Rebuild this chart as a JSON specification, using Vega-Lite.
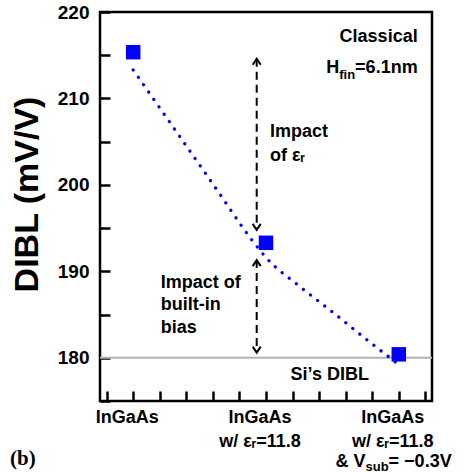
{
  "$schema": "https://vega.github.io/schema/vega-lite/v6.json",
  "width": 332,
  "height": 389,
  "autosize": "none",
  "padding": {"left": 100, "top": 12, "right": 31, "bottom": 72},
  "background": "white",
  "config": {
    "view": {"stroke": "black", "strokeWidth": 2.5},
    "font": "Liberation Sans",
    "text": {"font": "Liberation Sans", "fontWeight": "bold", "fontSize": 18, "color": "black"},
    "axisY": {
      "values": [180, 185, 190, 195, 200, 205, 210, 215, 220],
      "labelExpr": "datum.value % 10 === 0 ? datum.label : ''",
      "offset": -10,
      "tickSize": 10, "tickWidth": 2.5, "tickColor": "black",
      "domain": false, "grid": false,
      "labelFont": "Liberation Sans", "labelFontWeight": "bold", "labelFontSize": 19,
      "labelColor": "black", "labelPadding": 11,
      "titleFont": "Liberation Sans", "titleFontSize": 34,
      "titleFontWeight": "bold", "titleColor": "black",
      "titleX": -83, "titleY": 182, "titleAngle": -90,
      "titleAlign": "center", "titleBaseline": "middle"
    },
    "axisX": {
      "values": [0, 1, 2], "labels": false, "offset": -10, "tickSize": 10, "tickWidth": 2.5,
      "tickColor": "black", "domain": false, "grid": false
    }
  },
  "datasets": {
    "points": [
      {"case": 0, "dibl": 215.35},
      {"case": 1, "dibl": 193.3},
      {"case": 2, "dibl": 180.4}
    ],
    "fit": [
      {"case": 0, "dibl": 213.3},
      {"case": 0.3, "dibl": 206.7},
      {"case": 0.6, "dibl": 200.1},
      {"case": 0.9, "dibl": 193.5},
      {"case": 1.0, "dibl": 191.6},
      {"case": 1.25, "dibl": 188.3},
      {"case": 1.5, "dibl": 185.3},
      {"case": 1.75, "dibl": 182.2},
      {"case": 2.0, "dibl": 179.2}
    ],
    "arrows": [
      {"case": 0.93, "top": 214.6, "bottom": 194.8},
      {"case": 0.93, "top": 191.3, "bottom": 180.6}
    ]
  },
  "layer": [
    {
      "data": {"values": [{"case": 0, "dibl": 180}]},
      "mark": {"type": "rule", "color": "#b3b3b3", "strokeWidth": 2},
      "encoding": {
        "y": {
          "field": "dibl", "type": "quantitative", "title": "DIBL (mV/V)",
          "scale": {"domain": [175, 220], "nice": false, "zero": false}
        }
      }
    },
    {
      "data": {"name": "fit"},
      "mark": {"type": "line", "color": "#0000ff", "strokeWidth": 3.3, "strokeDash": [0.1, 8.9], "strokeCap": "round", "interpolate": "monotone"},
      "encoding": {
        "x": {
          "field": "case", "type": "quantitative", "title": null,
          "scale": {"domain": [-0.25, 2.25], "nice": false, "zero": false}
        },
        "y": {"field": "dibl", "type": "quantitative", "title": "DIBL (mV/V)"}
      }
    },
    {
      "data": {"name": "points"},
      "mark": {"type": "point", "shape": "square", "filled": true, "size": 210, "color": "#0000ff", "opacity": 1},
      "encoding": {
        "x": {"field": "case", "type": "quantitative", "title": null},
        "y": {"field": "dibl", "type": "quantitative", "title": "DIBL (mV/V)"}
      }
    },
    {
      "data": {"name": "arrows"},
      "mark": {"type": "rule", "color": "black", "strokeWidth": 2, "strokeDash": [8, 5]},
      "encoding": {
        "x": {"field": "case", "type": "quantitative", "title": null},
        "y": {"field": "top", "type": "quantitative", "title": "DIBL (mV/V)"},
        "y2": {"field": "bottom"}
      }
    },
    {
      "data": {"name": "arrows"},
      "mark": {"type": "point", "shape": "M-1,1.5L0,0L1,1.5", "filled": false, "size": 64, "color": "black", "strokeWidth": 2, "opacity": 1},
      "encoding": {
        "x": {"field": "case", "type": "quantitative", "title": null},
        "y": {"field": "top", "type": "quantitative", "title": "DIBL (mV/V)"}
      }
    },
    {
      "data": {"name": "arrows"},
      "mark": {"type": "point", "shape": "M-1,-1.5L0,0L1,-1.5", "filled": false, "size": 64, "color": "black", "strokeWidth": 2, "opacity": 1},
      "encoding": {
        "x": {"field": "case", "type": "quantitative", "title": null},
        "y": {"field": "bottom", "type": "quantitative", "title": "DIBL (mV/V)"}
      }
    },
    {
      "data": {"values": [
        {"case": 1.03, "dibl": 205.54, "label": "Impact"},
        {"case": 1.03, "dibl": 202.76, "label": "of εᵣ"},
        {"case": 0.207, "dibl": 188.07, "label": "Impact of"},
        {"case": 0.207, "dibl": 185.53, "label": "built-in"},
        {"case": 0.207, "dibl": 182.86, "label": "bias"}
      ]},
      "mark": {"type": "text", "align": "left", "baseline": "alphabetic"},
      "encoding": {
        "x": {"field": "case", "type": "quantitative", "title": null},
        "y": {"field": "dibl", "type": "quantitative", "title": "DIBL (mV/V)"},
        "text": {"field": "label"}
      }
    },
    {
      "data": {"values": [
        {"case": 2.142, "dibl": 216.56, "label": "Classical"},
        {"case": 2.142, "dibl": 212.94, "label": "=6.1nm"}
      ]},
      "mark": {"type": "text", "align": "right", "baseline": "alphabetic"},
      "encoding": {
        "x": {"field": "case", "type": "quantitative", "title": null},
        "y": {"field": "dibl", "type": "quantitative", "title": "DIBL (mV/V)"},
        "text": {"field": "label"}
      }
    },
    {
      "data": {"values": [{"case": 2.142, "dibl": 212.94, "label": "fin"}]},
      "mark": {"type": "text", "align": "right", "baseline": "alphabetic", "fontSize": 13, "dx": -62.5, "dy": 6},
      "encoding": {
        "x": {"field": "case", "type": "quantitative", "title": null},
        "y": {"field": "dibl", "type": "quantitative", "title": "DIBL (mV/V)"},
        "text": {"field": "label"}
      }
    },
    {
      "data": {"values": [{"case": 2.142, "dibl": 212.94, "label": "H"}]},
      "mark": {"type": "text", "align": "right", "baseline": "alphabetic", "dx": -78.4},
      "encoding": {
        "x": {"field": "case", "type": "quantitative", "title": null},
        "y": {"field": "dibl", "type": "quantitative", "title": "DIBL (mV/V)"},
        "text": {"field": "label"}
      }
    },
    {
      "data": {"values": [{"case": 1.48, "dibl": 177.43, "label": "Si’s DIBL"}]},
      "mark": {"type": "text", "align": "center", "baseline": "alphabetic"},
      "encoding": {
        "x": {"field": "case", "type": "quantitative", "title": null},
        "y": {"field": "dibl", "type": "quantitative", "title": "DIBL (mV/V)"},
        "text": {"field": "label"}
      }
    },
    {
      "data": {"values": [
        {"case": 0, "dibl": 172.45, "label": "InGaAs"},
        {"case": 1, "dibl": 172.45, "label": "InGaAs"},
        {"case": 2, "dibl": 172.45, "label": "InGaAs"},
        {"case": 1, "dibl": 169.68, "label": "w/ εᵣ=11.8"},
        {"case": 2, "dibl": 169.68, "label": "w/ εᵣ=11.8"}
      ]},
      "mark": {"type": "text", "align": "center", "baseline": "alphabetic", "dx": -6},
      "encoding": {
        "x": {"field": "case", "type": "quantitative", "title": null},
        "y": {"field": "dibl", "type": "quantitative", "title": "DIBL (mV/V)"},
        "text": {"field": "label"}
      }
    },
    {
      "data": {"values": [{"case": 2, "dibl": 167.36, "label": "& V"}]},
      "mark": {"type": "text", "align": "right", "baseline": "alphabetic", "dx": -33.3},
      "encoding": {
        "x": {"field": "case", "type": "quantitative", "title": null},
        "y": {"field": "dibl", "type": "quantitative", "title": "DIBL (mV/V)"},
        "text": {"field": "label"}
      }
    },
    {
      "data": {"values": [{"case": 2, "dibl": 167.36, "label": "sub"}]},
      "mark": {"type": "text", "align": "left", "baseline": "alphabetic", "fontSize": 13, "dx": -33.3, "dy": 4},
      "encoding": {
        "x": {"field": "case", "type": "quantitative", "title": null},
        "y": {"field": "dibl", "type": "quantitative", "title": "DIBL (mV/V)"},
        "text": {"field": "label"}
      }
    },
    {
      "data": {"values": [{"case": 2, "dibl": 167.36, "label": "= −0.3V"}]},
      "mark": {"type": "text", "align": "left", "baseline": "alphabetic", "dx": -10.2},
      "encoding": {
        "x": {"field": "case", "type": "quantitative", "title": null},
        "y": {"field": "dibl", "type": "quantitative", "title": "DIBL (mV/V)"},
        "text": {"field": "label"}
      }
    },
    {
      "data": {"values": [{"case": -0.928, "dibl": 167.6, "label": "(b)"}]},
      "mark": {"type": "text", "align": "left", "baseline": "alphabetic", "font": "Liberation Serif", "fontSize": 21},
      "encoding": {
        "x": {"field": "case", "type": "quantitative", "title": null},
        "y": {"field": "dibl", "type": "quantitative", "title": "DIBL (mV/V)"},
        "text": {"field": "label"}
      }
    }
  ]
}
